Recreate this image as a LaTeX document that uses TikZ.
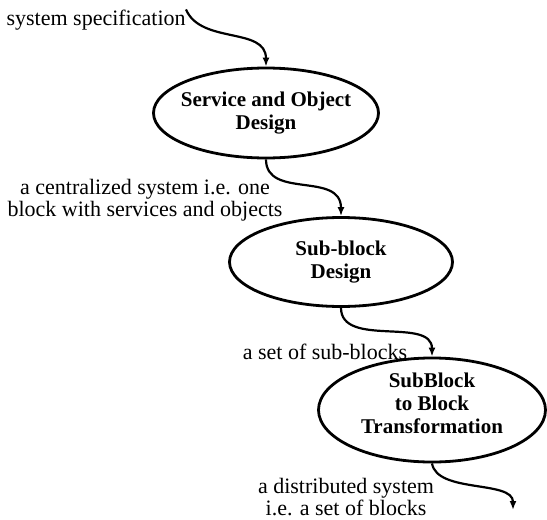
\documentclass[tikz,border=0pt]{standalone}
\usepackage{fontspec}
\setmainfont{Liberation Serif}
\usetikzlibrary{shapes.geometric,arrows.meta}
\tikzset{
    design-oval/.style = {draw, ellipse, line width=1.4pt, inner xsep=-4pt, inner ysep=0pt, align=center, font=\fontsize{10.5}{11.5}\selectfont\bfseries},
    flow-label/.style = {inner sep=0pt, align=center, font=\fontsize{11}{10}\selectfont},
    flow-arrow/.style = {line width=1.1pt, -{Latex[length=4.5pt,width=3.5pt]}},
}

\begin{document}
\begin{tikzpicture}[x=0.5pt,y=-0.5pt]
\useasboundingbox (0,0) rectangle (547,520);
\node [flow-label, anchor=east] (spec) at (186,20) {system specification};
\node [design-oval, minimum width=112.5pt, minimum height=45pt] (sod) at (266,113) {Service and Object\\Design};
\node [design-oval, minimum width=111.5pt, minimum height=44.5pt] (sbd) at (341,262) {Sub-block\\Design};
\node [design-oval, minimum width=113.5pt, minimum height=50pt] (sbt) at (432,410) {SubBlock\\to Block\\Transformation\\[-5pt]};
\coordinate (out) at (513,510);

\node [flow-label] (central) at (145,200) {a centralized system i.e. one\\block with services and objects};
\node [flow-label] (subs) at (325,352) {a set of sub-blocks};
\node [flow-label] (dist) at (346,497) {a distributed system\\i.e. a set of blocks};

\draw [flow-arrow] (spec.north east) .. controls +(15,35) and +(0,-40) .. (sod.north);
\draw [flow-arrow] (sod.south) .. controls +(0,40) and +(0,-45) .. (sbd.north);
\draw [flow-arrow] (sbd.south) .. controls +(0,40) and +(0,-40) .. (sbt.north);
\draw [flow-arrow] (sbt.south) .. controls +(5,30) and +(0,-30) .. (out);
\end{tikzpicture}
\end{document}
